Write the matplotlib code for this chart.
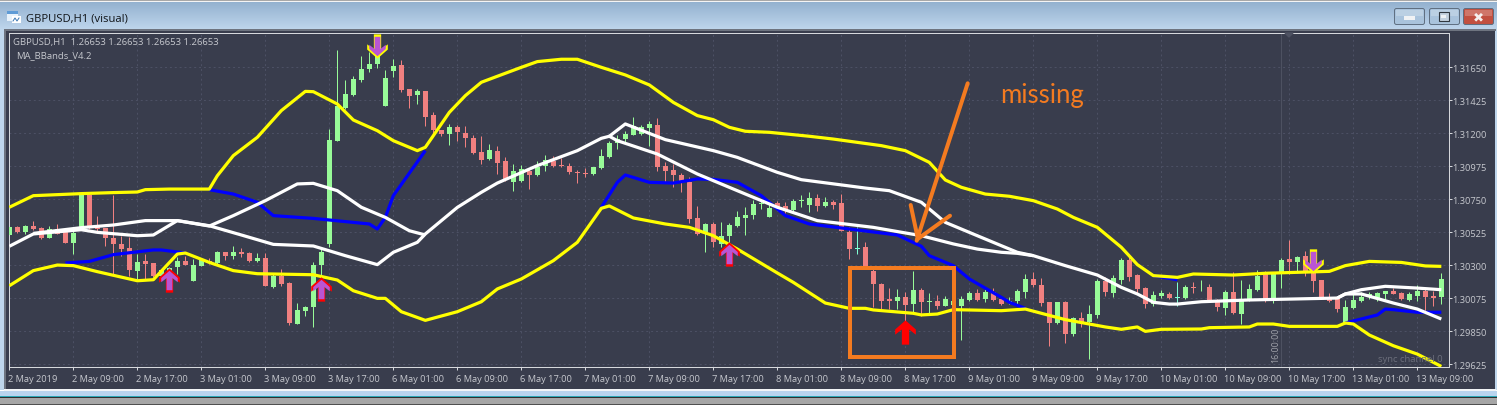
import numpy as np
import matplotlib
matplotlib.use("Agg")
import matplotlib.pyplot as plt
from matplotlib.patches import Rectangle, FancyBboxPatch
from matplotlib.path import Path
from matplotlib.lines import Line2D
from matplotlib.transforms import Affine2D, ScaledTranslation

# ---- data: GBPUSD H1 candles, prices in points (1e-5)
opens = [
130507,130561,130525,130566,130552,130489,130548,130530,130450,130559,
130780,130570,130552,130489,130443,130416,130264,130330,130316,130230,
130218,130289,130330,130195,130298,130332,130314,130391,130361,130391,
130384,130330,130348,130150,130225,130180,129900,129991,130016,130302,
130446,131150,131371,131461,131564,131639,131673,131389,131625,131666,
131502,131461,131486,131325,131225,131198,131241,131200,131166,131070,
131025,131082,131009,130871,130875,130946,130916,130975,131009,130984,
130975,130939,130932,130923,130964,131039,131134,131161,131191,131196,
131239,131257,130977,130950,130916,130871,130623,130525,130582,130445,
130502,130568,130625,130643,130716,130632,130725,130707,130680,130741,
130711,130757,130702,130730,130725,130530,130409,130423,130264,130173,
130071,130057,130084,130034,130132,130048,130057,130025,130030,130025,
130061,130111,130071,130120,130071,130048,130059,130116,130207,130166,
130048,129907,130048,129832,129941,129911,129962,130195,130111,130200,
130339,130234,130145,130034,130089,130107,130080,130077,130155,130150,
130152,130059,130012,130116,129968,130066,130134,130241,130055,130252,
130343,130323,130366,130252,130200,130086,130068,129907,130009,130059,
130082,130075,130105,130123,130111,130066,130089,130127,130093,130086]
closes = [
130564,130525,130570,130548,130484,130548,130516,130450,130521,130786,
130559,130548,130484,130445,130411,130270,130320,130309,130230,130270,
130280,130330,130305,130302,130343,130314,130393,130364,130391,130377,
130327,130348,130161,130230,130170,129905,129993,130016,130302,130389,
131152,131384,131466,131571,131639,131673,131725,131575,131657,131498,
131457,131486,131314,131225,131198,131241,131207,131166,131066,131018,
131086,130998,130889,130941,130955,130918,130973,131018,130980,130975,
130936,130927,130921,130968,131043,131136,131161,131196,131248,131241,
131261,130973,130943,130918,130877,130618,130512,130582,130457,130502,
130575,130627,130641,130718,130725,130689,130695,130680,130741,130748,
130757,130702,130730,130714,130536,130411,130416,130293,130173,130059,
130059,130082,130030,130132,130048,130055,130025,130071,130059,130071,
130111,130066,130116,130066,130036,130059,130123,130207,130166,130043,
129907,130048,129832,129941,129916,129968,130195,130120,130211,130339,
130221,130139,130039,130098,130111,130075,130084,130152,130148,130155,
130055,130018,130118,129975,130071,130139,130230,130055,130241,130339,
130323,130359,130252,130193,130086,130059,130002,130014,130061,130082,
130105,130111,130123,130105,130071,130105,130127,130086,130080,130207]
highs = [
130575,130570,130575,130602,130561,130566,130582,130530,130548,130786,
130786,130634,130552,130780,130498,130493,130377,130377,130316,130275,
130286,130355,130366,130343,130343,130348,130400,130391,130432,130416,
130389,130384,130384,130241,130275,130189,130043,130025,130320,130423,
131230,131768,131564,131593,131730,131752,131764,131632,131707,131700,
131502,131502,131491,131343,131225,131264,131257,131252,131189,131184,
131125,131116,131036,130991,130984,130957,131009,131052,131048,131030,
130998,130952,130961,130970,131093,131150,131189,131218,131311,131257,
131286,131302,131002,130991,130927,130900,130702,130589,130593,130593,
130589,130668,130695,130746,130752,130730,130741,130730,130752,130780,
130798,130786,130764,130746,130786,130559,130559,130457,130298,130180,
130143,130139,130116,130259,130148,130111,130098,130093,130082,130093,
130127,130139,130139,130143,130082,130082,130139,130241,130252,130211,
130048,130052,130059,129946,129980,130030,130207,130218,130234,130350,
130361,130241,130150,130127,130134,130116,130184,130166,130184,130200,
130173,130071,130132,130252,130200,130173,130268,130264,130252,130350,
130473,130366,130400,130298,130200,130111,130075,130064,130116,130116,
130116,130116,130127,130143,130116,130116,130166,130143,130127,130248]
lows = [
130498,130521,130511,130543,130480,130489,130514,130450,130377,130548,
130548,130536,130430,130241,130366,130230,130207,130207,130218,130218,
130207,130241,130305,130195,130293,130309,130309,130339,130343,130355,
130320,130320,130161,130143,130161,129893,129900,129957,129880,130230,
130423,131150,131366,131457,131552,131616,131646,131389,131586,131484,
131375,131400,131252,131195,131180,131120,131150,131105,131059,130991,
131018,130921,130877,130809,130866,130820,130907,130946,130968,130973,
130923,130861,130900,130916,130957,131030,131093,131139,131189,131189,
131116,130946,130871,130832,130802,130589,130507,130393,130423,130423,
130445,130559,130507,130616,130684,130627,130684,130657,130673,130695,
130661,130673,130695,130684,130536,130343,130377,130293,130014,130002,
130002,130002,129923,129968,129957,129968,130002,130021,130014,129793,
130059,130059,130052,130059,130030,130036,130036,130077,130155,130025,
129752,129900,129770,129820,129877,129661,129943,130093,130086,130173,
130195,130105,130009,130021,130075,130071,130025,130071,130111,130127,
130048,129991,129962,129966,129900,130059,130127,130052,130043,130148,
130241,130252,130230,130116,130082,130048,129980,129900,130002,130052,
130071,130059,130059,130105,130064,130057,130059,129991,130025,130036]
doji_bars = [106, 146]

# ---- indicator lines: (bar, price in points)
upper_bar = [0,3,9,13,16,17,20,25,26,28,31,34,37,38,41,43,46,48,51,52,53,55,57,59,61,64,66,69,71,74,77,80,83,86,88,90,92,95,100,103,109,112,115,117,119,122,125,128,131,133,136,139,141,143,146,148,153,157,165,167,170,174,177,179]
upper_val = [130696,130775,130789,130796,130800,130816,130820,130820,130911,131048,131173,131355,131486,131484,131400,131291,131218,131150,131082,131105,131184,131343,131457,131548,131589,131650,131689,131705,131705,131650,131598,131530,131411,131321,131293,131241,131214,131207,131180,131161,131116,131082,131002,130882,130832,130786,130771,130741,130684,130627,130559,130423,130305,130230,130218,130241,130234,130246,130259,130298,130327,130320,130296,130293]
lower_bar = [0,3,6,8,11,16,18,21,22,25,28,31,38,41,43,46,47,49,52,56,59,61,64,68,71,74,75,78,82,85,88,91,96,98,102,105,107,108,113,114,116,118,124,127,132,137,139,141,142,144,149,150,155,156,158,160,166,167,168,170,173,176,179]
lower_val = [130161,130264,130302,130298,130257,130195,130202,130377,130384,130320,130264,130243,130236,130200,130127,130075,130075,129984,129925,129984,130052,130139,130207,130332,130457,130689,130705,130623,130582,130559,130502,130411,130248,130184,130043,130007,130007,129996,129973,129962,129968,129998,129991,130002,129930,129880,129864,129880,129850,129864,129866,129875,129880,129900,129900,129884,129884,129907,129900,129825,129752,129695,129611]
white_a_bar = [0,3,9,11,16,18,21,25,29,33,38,42,46,48,51,52,56,59,61,66,71,74,75,76,81,86,91,96,101,108,114,118,121,124,126,128,132,136,139,141,143,145,146,149,155,166,167,169,173,176,179]
white_a_val = [130430,130514,130543,130525,130502,130507,130605,130570,130507,130443,130432,130366,130305,130389,130457,130514,130695,130798,130861,130980,131082,131166,131180,131150,131059,130923,130809,130696,130605,130559,130502,130446,130411,130389,130382,130366,130298,130234,130150,130105,130048,130036,130036,130052,130064,130077,130105,130105,130043,130002,129934]
white_b1_bar = [3,9,13,17,21,25,28,32,36,38,41,44,47,50,52]
white_b1_val = [130518,130557,130575,130605,130605,130568,130639,130741,130855,130859,130809,130696,130627,130536,130507]
white_b2_bar = [75,77,82,88,91,96,99,107,110,114,117,121,124,126,128]
white_b2_val = [131180,131264,131157,131082,131036,130934,130884,130827,130809,130730,130593,130502,130434,130389,130366]
white_b3_bar = [166,167,169,172,176,179]
white_b3_val = [130077,130105,130134,130157,130145,130134]
blue_segments = [
    ([7,10,13,18,19,22], [130316,130327,130373,130405,130405,130384]),
    ([25,28,31,33,38,45,46,47,48,52], [130816,130786,130730,130639,130620,130582,130548,130627,130775,131082]),
    ([74,76,77,80,83,86,88,91,94,97,100,111,114,115,118,120,124,125,127],
     [130696,130866,130916,130866,130861,130889,130886,130866,130775,130639,130582,130507,130430,130366,130298,130207,130082,130048,130007]),
    ([143,146], [130230,130202]),
    ([167,171,172,173,176,179], [129907,129962,130002,129998,129980,129980]),
]

# ---- signal arrows
mixed_up_bar = [20, 39, 90]
mixed_up_val = [130200, 130136, 130377]
red_up_bar = [112]
red_up_val = [129843]
down_bar = [46, 163]
down_val = [131798, 130332]

# ---- tick labels
time_labels = ["2 May 2019","2 May 09:00","2 May 17:00","3 May 01:00","3 May 09:00","3 May 17:00",
               "6 May 01:00","6 May 09:00","6 May 17:00","7 May 01:00","7 May 09:00","7 May 17:00",
               "8 May 01:00","8 May 09:00","8 May 17:00","9 May 01:00","9 May 09:00","9 May 17:00",
               "10 May 01:00","10 May 09:00","10 May 17:00","13 May 01:00","13 May 09:00"]
price_ticks = [1.31650,1.31425,1.31200,1.30975,1.30750,1.30525,1.30300,1.30075,1.29850,1.29625]

W, H = 1497, 406
BG = "#393D4D"
GREEN = "#98FB98"
RED = "#F08080"
ORANGE = "#F47B20"
TXT = "#C6C8CE"
FONT = "Open Sans"
px = 0.72  # points per pixel at dpi 100

fig = plt.figure(figsize=(W/100, H/100), dpi=100)

# ---- window chrome in pixel coordinates
bg = fig.add_axes([0, 0, 1, 1], zorder=0)
bg.set_xlim(0, W); bg.set_ylim(H, 0); bg.axis("off")
grad = np.linspace(0, 1, 64)[:, None, None]
c0, c1 = np.array([0.56, 0.68, 0.80]), np.array([0.75, 0.84, 0.93])
bg.imshow(c0 + (c1 - c0) * grad, extent=(0, W, 31, 0), aspect="auto", zorder=0)
bg.set_xlim(0, W); bg.set_ylim(H, 0)
def R(ax, x0, y0, x1, y1, c, z=1, **k):
    ax.add_patch(Rectangle((x0, y0), x1-x0, y1-y0, fc=c, ec="none", zorder=z, **k))
R(bg, 0, 0, W, 2, "#A8A8A8")
R(bg, 0, 2, W, 3, "#F4F4F4")
R(bg, 0, 30, 5, 391, "#BFD6EC")
R(bg, 1495, 30, W, 391, "#BFD6EC")
R(bg, 4, 30, 1496, 32, "#6E7480")
R(bg, 4, 30, 5.5, 391, "#6E7480")
R(bg, 5.5, 32, 1495, 390, BG)
R(bg, 4, 390, 1496, 392, "#F2F4F6")
R(bg, 0, 392, W, 397, "#B9D4EE")
R(bg, 0, 397, W, 398, "#2AA7B5")
R(bg, 0, 398, W, 399, "#303030")
R(bg, 0, 399, W, 405, "#A6A6A6")
R(bg, 0, 405, W, H, "#505050")
# title icon
R(bg, 7, 12, 18, 22, "#E8F2FB", z=2)
R(bg, 7, 12, 18, 15, "#5E9BD6", z=3)
R(bg, 12, 17, 21, 24, "#FFFFFF", z=3)
bg.plot([13, 15, 17, 19], [22, 19, 22, 19], color="#3C78B4", lw=0.7, zorder=4)
bg.text(26, 19, "GBPUSD,H1 (visual)", fontsize=8.1, family=FONT, color="#101418", va="center", ha="left")
# window buttons
for x0, x1, c in [(1394, 1425, "#A9C3DC"), (1429, 1460, "#A9C3DC"), (1463, 1494, "#C25040")]:
    bg.add_patch(FancyBboxPatch((x0+1, 10), x1-x0-2, 15, boxstyle="round,pad=0.5,rounding_size=2",
                                fc=c, ec="#5E6E80", lw=0.7, zorder=2))
    R(bg, x0+2, 11, x1-2, 17, "#FFFFFF", z=3, alpha=0.22)
R(bg, 1404, 17, 1415, 21, "#F0F2F4", z=4)
bg.add_patch(Rectangle((1438.5, 13), 10, 8.5, fc="#C4D2DF", ec="#303840", lw=0.8, zorder=4))
R(bg, 1441, 16, 1446, 19, "#EEF2F5", z=5)
bg.text(1478.5, 17.5, "\u2716", fontsize=9.5, color="#F5F0EE", ha="center", va="center",
        family="DejaVu Sans", zorder=4)

# ---- price chart
L, Rt, T, B = 9, 1449, 34, 368
ax = fig.add_axes([L/W, 1-B/H, (Rt-L)/W, (B-T)/H], zorder=1)
ax.set_facecolor(BG)
ax.set_xlim((L-9.33)/8, (Rt-9.33)/8)
ax.set_ylim(1.29607, 1.31884)

o, h, l, c = [np.array(a)/1e5 for a in (opens, highs, lows, closes)]
x = np.arange(len(o))
up = c >= o
colors = np.where(up, GREEN, RED).tolist()
for b in doji_bars:
    colors[b] = "#7FFFD4"
ax.vlines(x, l, h, colors=colors, lw=1*px, zorder=2)
ax.bar(x, np.abs(c-o), bottom=np.minimum(o, c), width=5/8, color=colors, lw=0, zorder=3)

LW = 3.2*px
def line(bars, vals, col, z):
    ax.plot(bars, np.array(vals)/1e5, color=col, lw=LW, zorder=z,
            solid_joinstyle="round", solid_capstyle="butt")
for bars, vals in blue_segments:
    line(bars, vals, "#0000FF", 4)
line(upper_bar, upper_val, "#FFFF00", 5)
line(lower_bar, lower_val, "#FFFF00", 5)
for b_, v_ in [(white_a_bar, white_a_val), (white_b1_bar, white_b1_val),
               (white_b2_bar, white_b2_val), (white_b3_bar, white_b3_val)]:
    line(b_, v_, "#FFFFFF", 6)

# arrow markers
up_path = Path([(0,1),(0.85,0.25),(0.85,-0.18),(0.3,0.25),(0.3,-1),(-0.3,-1),(-0.3,0.25),(-0.85,-0.18),(-0.85,0.25),(0,1)], closed=True)
down_path = up_path.transformed(Affine2D().scale(1, -1))
def P(v): return np.array(v)/1e5
ax.plot(mixed_up_bar, P(mixed_up_val), ls="", marker=up_path, ms=17.5, mfc="#FF0000", mec="none", zorder=7)
ax.plot(mixed_up_bar, P(mixed_up_val), ls="", marker=up_path, ms=14, mfc="#BA55D3", mec="none", zorder=8)
ax.plot(red_up_bar, P(red_up_val), ls="", marker=up_path, ms=17.5, mfc="#FF0000", mec="none", zorder=7)
ax.plot(down_bar, P(down_val), ls="", marker=down_path, ms=17.5, mfc="#FFFF00", mec="none", zorder=7)
ax.plot(down_bar, P(down_val), ls="", marker=down_path, ms=14, mfc="#BA55D3", mec="none", zorder=8)

# axes, ticks, grid
for s in ax.spines.values():
    s.set_color("#D6D8DC"); s.set_linewidth(1*px)
xt = np.arange(len(time_labels))*8
ax.set_xticks(xt)
ax.set_xticklabels(time_labels, ha="left", fontsize=6.7, family=FONT, color=TXT)
ax.tick_params(axis="x", length=3*px, width=1*px, color="#D6D8DC", pad=3)
shift = ScaledTranslation(-1.2/100, 0, fig.dpi_scale_trans)
for lab in ax.get_xticklabels():
    lab.set_horizontalalignment("left")
    lab.set_transform(lab.get_transform() + shift)
ax.yaxis.tick_right()
ax.set_yticks(price_ticks)
ax.set_yticklabels([f"{v:.5f}" for v in price_ticks], fontsize=6.7, family=FONT, color=TXT)
ax.tick_params(axis="y", length=3*px, width=1*px, color="#D6D8DC", pad=0.3)
ax.grid(True, color="#4D5165", lw=0.7, ls=(0, (2, 3)), zorder=1)
ax.set_axisbelow(True)
ax.axvline(159.0, color="#4E5262", lw=0.7, zorder=1)

# ---- overlay: chart captions and hand annotations, pixel coordinates
ov = fig.add_axes([0, 0, 1, 1], zorder=2)
ov.set_xlim(0, W); ov.set_ylim(H, 0); ov.axis("off"); ov.patch.set_alpha(0)
ov.text(13, 42.5, "GBPUSD,H1  1.26653 1.26653 1.26653 1.26653", fontsize=6.8, family=FONT, color=TXT, va="center")
ov.text(16, 55.5, "MA_BBands_V4.2", fontsize=6.8, family=FONT, color=TXT, va="center")
ov.text(1275.5, 345, "16:00:00", fontsize=6.4, family=FONT, color="#A0A2AA", rotation=90, ha="center", va="center")
ov.text(1443, 360, "sync channel 0", fontsize=6.8, family=FONT, color="#6C6F7C", ha="right", va="center")
ov.fill([1285, 1293, 1289], [34, 34, 38], color="#4E5262", zorder=1)
ov.add_patch(Rectangle((850, 269.3), 103.7, 88.4, fc="none", ec=ORANGE, lw=4*px, zorder=5))
for xs, ys in [((967.7, 916.7), (84.3, 241.7)), ((910.7, 917.5), (206, 238)), ((950, 917), (216.7, 240.5))]:
    ov.add_line(Line2D(xs, ys, color=ORANGE, lw=4*px, zorder=5, solid_capstyle="round"))
ov.text(1000.5, 95, "missing", fontsize=18.5, family="Lato", color=ORANGE, va="center", ha="left")

fig.savefig("out.png", dpi=100, facecolor="white")
